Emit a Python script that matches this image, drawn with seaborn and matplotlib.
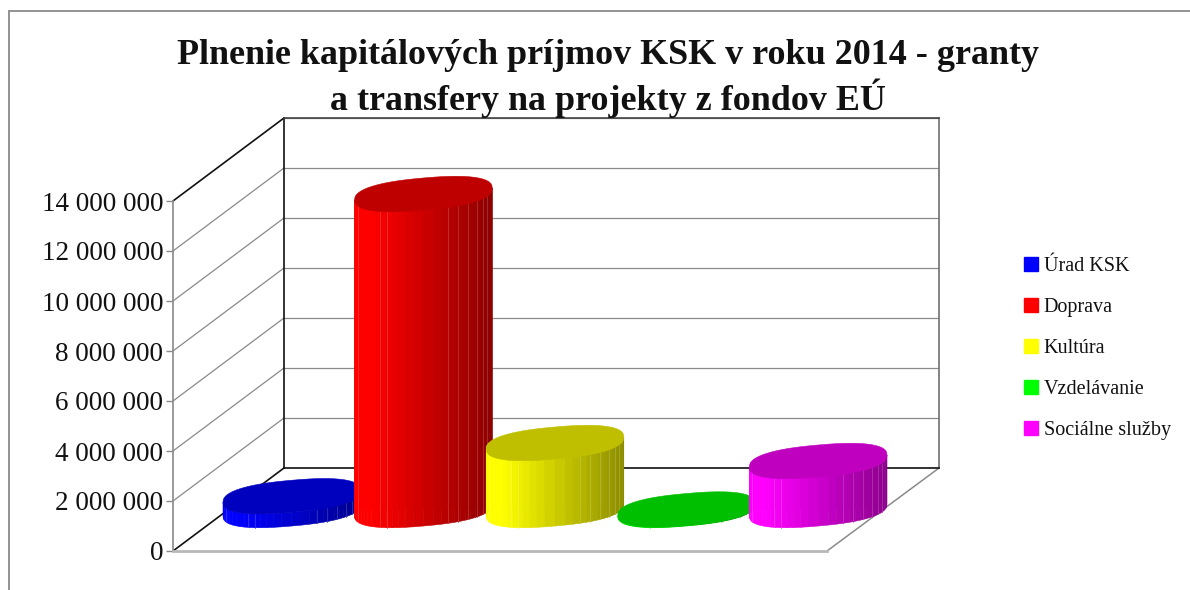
import numpy as np
import pandas as pd
import seaborn as sns
import matplotlib
matplotlib.use("Agg")
import matplotlib.pyplot as plt
from matplotlib.lines import Line2D
from matplotlib.patches import ConnectionPatch, Patch, Polygon
from matplotlib.path import Path
from matplotlib.ticker import FuncFormatter
from matplotlib.colors import to_rgb

categories = ["Úrad KSK", "Doprava", "Kultúra", "Vzdelávanie", "Sociálne služby"]
values = [550000, 12640000, 2680000, 20000, 1960000]
colors = ["#0000ff", "#ff0000", "#ffff00", "#00ff00", "#ff00ff"]
title = "Plnenie kapitálových príjmov KSK v roku 2014 - granty\na transfery na projekty z fondov EÚ"
y_ticks = [0, 2000000, 4000000, 6000000, 8000000, 10000000, 12000000, 14000000]

sns.set_theme(style="white")
plt.rcParams["font.family"] = ["Liberation Serif", "DejaVu Serif"]

W, H = 1190, 590
fig = plt.figure(figsize=(W / 100, H / 100), dpi=100, facecolor="white")


def box(x0, x1, ytop, ybot):
    return [x0 / W, 1 - ybot / H, (x1 - x0) / W, (ybot - ytop) / H]


# outer frame
frame = dict(color="#8a8a8a", lw=1.3, transform=fig.transFigure)
fig.add_artist(Line2D([9 / W, 9 / W], [0, 1 - 11 / H], **frame))
fig.add_artist(Line2D([9 / W, 1], [1 - 11 / H, 1 - 11 / H], **frame))

# back wall
ax_back = fig.add_axes(box(284, 939, 118, 468), facecolor="none", zorder=0)
ax_back.set_xlim(0, 1)
ax_back.set_ylim(0, max(y_ticks))
ax_back.set_yticks(y_ticks)
ax_back.set_xticks([])
ax_back.tick_params(left=False, labelleft=False)
ax_back.yaxis.grid(True, color="#8a8a8a", lw=0.9)
ax_back.set_axisbelow(True)
for side, c, lw in [("left", "#111111", 1.2), ("bottom", "#111111", 1.2),
                    ("top", "#444444", 1.2), ("right", "#707070", 1.2)]:
    ax_back.spines[side].set_visible(True)
    ax_back.spines[side].set_color(c)
    ax_back.spines[side].set_linewidth(lw)

# front plane with the value axis
ax_front = fig.add_axes(box(173, 827, 201, 551), facecolor="none", zorder=1)
ax_front.set_xlim(0, 1)
ax_front.set_ylim(0, max(y_ticks))
ax_front.set_yticks(y_ticks)
ax_front.set_xticks([])
ax_front.yaxis.set_major_formatter(FuncFormatter(lambda v, _: f"{int(v):,}".replace(",", " ")))
ax_front.tick_params(axis="y", left=True, length=5, width=1, color="#8a8a8a", pad=2,
                     labelsize=19.5, labelcolor="#111111")
ax_front.spines["top"].set_visible(False)
ax_front.spines["right"].set_visible(False)
ax_front.spines["left"].set_color("#8a8a8a")
ax_front.spines["left"].set_linewidth(1.2)
ax_front.spines["bottom"].set_color("#b8b8b8")
ax_front.spines["bottom"].set_linewidth(2)


def depth_line(xf, v, color, lw=0.9):
    ax_back.add_artist(ConnectionPatch(xyA=(xf, v), coordsA=ax_front.transData,
                                       xyB=(xf, v), coordsB=ax_back.transData,
                                       color=color, lw=lw, clip_on=False))


for v in y_ticks[1:-1]:
    depth_line(0, v, "#8a8a8a")
depth_line(0, 0, "#111111", 1.2)
depth_line(0, y_ticks[-1], "#111111", 1.2)
depth_line(1, 0, "#8a8a8a", 1.1)

# cylinders, in a plane halfway through the depth of the floor
ax = fig.add_axes(box(229, 883, 160, 510), facecolor="none", zorder=2)
df = pd.DataFrame({"Oblast": categories, "Hodnota": values})
sns.barplot(data=df, x="Oblast", y="Hodnota", hue="Oblast", palette=colors, dodge=False,
            width=138 / 132, legend=False, ax=ax)
ax.set_xlim(-63 / 132, 4 + 65 / 132)
ax.set_ylim(0, max(y_ticks))
ax.set_axis_off()

PX_X = 1 / 132             # category units per pixel
PX_Y = max(y_ticks) / 350  # value units per pixel
A, B, K = 69, 16, 6        # ellipse half-width, half-height, tilt (pixels)
P = 0.82                   # fuller than a true ellipse, as in the reference
N = 32
SEAMS = [-66, -44, -37, 25, 35, 45, 54, 60, 64]


def sp(a):
    return np.sign(a) * np.abs(a) ** P


def ell(i, v, t):
    c, s = sp(np.cos(t)), sp(np.sin(t))
    return i + A * c * PX_X, v + (B * s + K * c) * PX_Y


def factor(u):
    return 1 - 0.45 * np.clip((u - 0.12) / 0.88, 0, 1)


bars = [c[0] for c in ax.containers]
for i, (v, col, bar) in enumerate(zip(values, colors, bars)):
    z = 3 + i
    rgb = np.array(to_rgb(col))
    bar.set_zorder(z)
    low = np.linspace(np.pi, 2 * np.pi, N + 1)
    up = np.linspace(0, np.pi, N + 1)
    sil = np.vstack([np.column_stack(ell(i, 0, low)), np.column_stack(ell(i, v, up)),
                     np.column_stack(ell(i, 0, low[:1]))])
    bar.set_clip_path(Path(sil), ax.transData)
    for t0, t1 in zip(low[:-1], low[1:]):
        x0, y0 = ell(i, 0, t0)
        x1, y1 = ell(i, 0, t1)
        xv0, yv0 = ell(i, v, t0)
        xv1, yv1 = ell(i, v, t1)
        u = (((x0 + x1) / 2 - i) / (A * PX_X) + 1) / 2
        shade = rgb * factor(u)
        ax.add_patch(Polygon([(x0, y0), (x1, y1), (xv1, yv1), (xv0, yv0)], closed=True,
                             facecolor=shade, edgecolor=shade, lw=0.4, clip_on=False, zorder=z))
    for dx in SEAMS:
        r = dx / A
        t = 2 * np.pi - np.arccos(np.sign(r) * abs(r) ** (1 / P))
        x0, y0 = ell(i, 0, t)
        xv, yv = ell(i, v, t)
        seam = rgb * factor((r + 1) / 2) * 0.8 + 0.2
        ax.plot([x0, xv], [y0, yv], color=seam, lw=0.6, clip_on=False, zorder=z + 0.1)
    ring = np.linspace(0, 2 * np.pi, 2 * N + 1)
    ax.add_patch(Polygon(np.column_stack(ell(i, v, ring)), closed=True, facecolor=rgb * 0.75,
                         edgecolor=rgb * 0.75, lw=0.4, clip_on=False, zorder=z + 0.2))

fig.text(608 / W, 1 - 78.5 / H, title, ha="center", va="center", fontsize=25.9, fontweight="bold",
         color="#111111", linespacing=1.2)

handles = [Patch(facecolor=c, edgecolor=c, label=n) for c, n in zip(colors, categories)]
fig.legend(handles=handles, loc="center left", bbox_to_anchor=(1007.5 / W, 1 - 348.5 / H),
           frameon=False, fontsize=14.5, handlelength=0.7, handleheight=0.7,
           handletextpad=0.3, labelspacing=1.08, labelcolor="#111111", borderpad=0.3)

fig.savefig("out.png", dpi=100)
